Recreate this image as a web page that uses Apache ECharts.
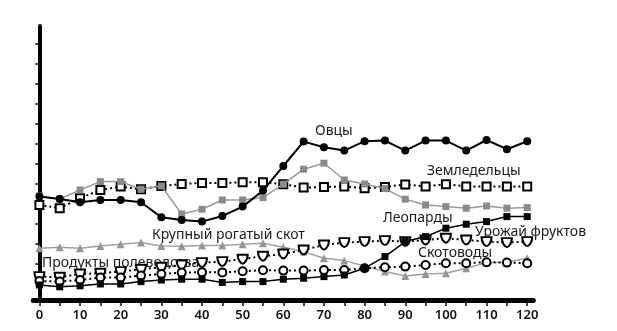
<!DOCTYPE html>
<html>
<head>
<meta charset="utf-8">
<script src="https://cdn.jsdelivr.net/npm/echarts@6/dist/echarts.min.js"></script>
<style>
  html, body { margin: 0; padding: 0; background: #fff; }
  #chart { width: 617px; height: 331px; }
</style>
</head>
<body>
<div id="chart"></div>
<script>
// Time steps along the horizontal axis
const steps = [0, 5, 10, 15, 20, 25, 30, 35, 40, 45, 50, 55, 60, 65, 70, 75, 80, 85, 90, 95, 100, 105, 110, 115, 120];
const xTickValues = [0, 5, 10, 15, 20, 25, 30, 35, 40, 45, 50, 55, 60, 65, 70, 75, 80, 85, 90, 95, 100, 105, 110, 115, 120];
const xLabelValues = [0, 10, 20, 30, 40, 50, 60, 70, 80, 90, 100, 110, 120];
const yTickValues = [0, 1, 2, 3, 4, 5, 6, 7, 8, 9, 10, 11, 12];

// Series values (relative units, one per step)
const sheep      = [4.37, 4.25, 4.09, 4.2, 4.2, 4.09, 3.34, 3.2, 3.12, 3.4, 3.87, 4.67, 5.9, 7.12, 6.84, 6.67, 7.14, 7.17, 6.67, 7.17, 7.17, 6.67, 7.2, 6.74, 7.14];
const farmers    = [3.95, 3.79, 4.29, 4.7, 4.87, 4.74, 4.9, 5.0, 5.05, 5.05, 5.09, 5.09, 4.99, 4.82, 4.85, 4.88, 4.79, 4.85, 4.98, 4.88, 4.99, 4.88, 4.88, 4.88, 4.88];
const leopards   = [4.4, 4.25, 4.7, 5.12, 5.12, 4.74, 4.9, 3.5, 3.74, 4.2, 4.2, 4.32, 4.99, 5.74, 6.04, 5.2, 5.0, 4.77, 4.24, 3.95, 3.87, 3.79, 3.9, 3.79, 3.82];
const cattle     = [1.79, 1.84, 1.79, 1.9, 1.99, 2.07, 1.9, 1.89, 1.92, 1.92, 1.99, 2.04, 1.84, 1.62, 1.29, 1.17, 0.9, 0.62, 0.4, 0.5, 0.54, 0.79, 1.07, 1.09, 1.29];
const fieldCrops = [0.37, 0.34, 0.5, 0.54, 0.62, 0.74, 0.84, 0.95, 1.07, 1.12, 1.24, 1.39, 1.5, 1.7, 1.95, 2.07, 2.12, 2.17, 2.12, 2.2, 2.29, 2.2, 2.12, 2.07, 2.12];
const herders    = [0.15, 0.12, 0.2, 0.32, 0.32, 0.42, 0.5, 0.57, 0.59, 0.58, 0.64, 0.69, 0.67, 0.67, 0.7, 0.7, 0.79, 0.84, 0.87, 0.95, 1.04, 1.04, 1.09, 1.07, 1.04];
const fruitCrop  = [-0.05, -0.14, -0.09, 0, 0, 0.12, 0.2, 0.24, 0.24, 0.08, 0.12, 0.12, 0.24, 0.29, 0.37, 0.45, 0.79, 1.37, 2.12, 2.37, 2.79, 2.99, 3.12, 3.37, 3.37];

const pair = (vals) => steps.map((s, i) => [s, vals[i]]);

const DOTTED = [2, 3];
const SHIELD = 'path://M0,0 L10,0 C10,5 7,9 5,9 C3,9 0,5 0,0 Z';
const FONT = '"Noto Sans", "Open Sans", sans-serif';

const chart = echarts.init(document.getElementById('chart'), null, { renderer: 'canvas' });

const textLabel = (text, x, y) => ({
  type: 'text', x: x, y: y, z: 1,
  style: { text: text, fill: '#1a1a1a', font: '14px ' + FONT, textVerticalAlign: 'middle' }
});

chart.setOption({
  animation: false,
  backgroundColor: '#fff',
  grid: { left: 33.3, right: 83.7, top: 26, bottom: 31, containLabel: false },
  xAxis: {
    type: 'value', min: -1.5, max: 121.5,
    axisLine: { onZero: false, lineStyle: { color: '#000', width: 5 } },
    axisTick: { show: true, customValues: xTickValues, length: 6, lineStyle: { color: '#000', width: 1.5 } },
    axisLabel: { customValues: xLabelValues, color: '#111', fontFamily: FONT, fontSize: 13, fontWeight: 600, margin: 9 },
    splitLine: { show: false }
  },
  yAxis: {
    type: 'value', min: -0.8, max: 12.9,
    axisLine: { show: true, onZero: true, lineStyle: { color: '#000', width: 4 } },
    axisTick: { show: true, customValues: yTickValues, length: 4, lineStyle: { color: '#000', width: 1.5 } },
    axisLabel: { show: false },
    splitLine: { show: false }
  },
  graphic: [
    textLabel('Овцы', 315, 131),
    textLabel('Земледельцы', 427, 171),
    textLabel('Леопарды', 383, 218),
    textLabel('Урожай фруктов', 475, 232),
    textLabel('Крупный рогатый скот', 152, 235),
    textLabel('Скотоводы', 418, 253),
    textLabel('Продукты полеводства', 42, 263)
  ],
  series: [
    {
      name: 'Земледельцы', type: 'line', data: pair(farmers), z: 3,
      symbol: 'rect', symbolSize: 8,
      itemStyle: { color: '#fff', borderColor: '#000', borderWidth: 2 },
      lineStyle: { color: '#000', width: 2, type: DOTTED }
    },
    {
      name: 'Леопарды', type: 'line', data: pair(leopards), z: 4,
      symbol: 'rect', symbolSize: 7,
      itemStyle: { color: '#8a8a8a', borderWidth: 0 },
      lineStyle: { color: '#9a9a9a', width: 1.5 }
    },
    {
      name: 'Овцы', type: 'line', data: pair(sheep), z: 5,
      symbol: 'circle', symbolSize: 8,
      itemStyle: { color: '#000', borderWidth: 0 },
      lineStyle: { color: '#000', width: 2 }
    },
    {
      name: 'Крупный рогатый скот', type: 'line', data: pair(cattle), z: 4,
      symbol: 'triangle', symbolSize: 8,
      itemStyle: { color: '#959595', borderWidth: 0 },
      lineStyle: { color: '#a0a0a0', width: 1.5 }
    },
    {
      name: 'Продукты полеводства', type: 'line', data: pair(fieldCrops), z: 5,
      symbol: SHIELD, symbolSize: [10, 9],
      itemStyle: { color: '#fff', borderColor: '#000', borderWidth: 2 },
      lineStyle: { color: '#000', width: 2, type: DOTTED }
    },
    {
      name: 'Скотоводы', type: 'line', data: pair(herders), z: 5,
      symbol: 'circle', symbolSize: 8,
      itemStyle: { color: '#fff', borderColor: '#000', borderWidth: 2 },
      lineStyle: { color: '#000', width: 2, type: DOTTED }
    },
    {
      name: 'Урожай фруктов', type: 'line', data: pair(fruitCrop), z: 6,
      symbol: 'rect', symbolSize: 7,
      itemStyle: { color: '#000', borderWidth: 0 },
      lineStyle: { color: '#000', width: 1.5 }
    }
  ]
});
</script>
</body>
</html>
